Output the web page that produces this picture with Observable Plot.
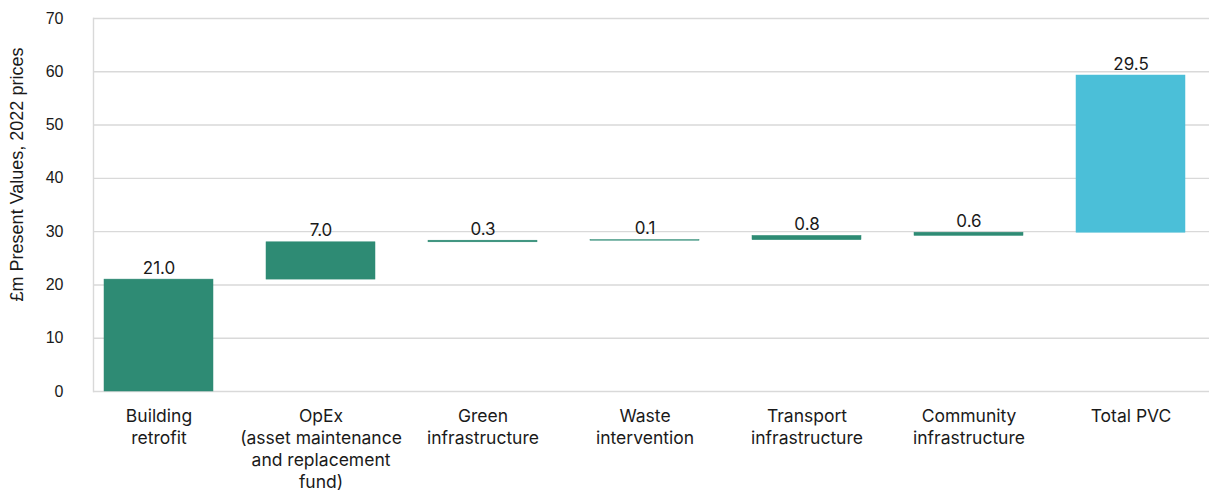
<!DOCTYPE html>
<html>
<head>
<meta charset="utf-8">
<script src="https://cdn.jsdelivr.net/npm/d3@7"></script>
<script src="https://cdn.jsdelivr.net/npm/@observablehq/plot@0.6"></script>
<style>
  html, body { margin: 0; padding: 0; background: #ffffff; }
  #chart svg { display: block; }
</style>
</head>
<body>
<div id="chart"></div>
<script>
// Waterfall of present value costs by component (£m, 2022 prices)
const categories = [
  "Building\nretrofit",
  "OpEx\n(asset maintenance\nand replacement\nfund)",
  "Green\ninfrastructure",
  "Waste\nintervention",
  "Transport\ninfrastructure",
  "Community\ninfrastructure",
  "Total PVC"
];
const values = [21.0, 7.0, 0.3, 0.1, 0.8, 0.6, 29.5];
const kinds = ["step", "step", "step", "step", "step", "step", "total"];
const yTicks = [0, 10, 20, 30, 40, 50, 60, 70];
const yTitle = "£m Present Values, 2022 prices";

// Each bar floats on the running total of the bars before it
let running = 0;
const rows = categories.map((category, i) => {
  const y1 = running;
  const y2 = running + values[i];
  running = y2;
  return { category, value: values[i], kind: kinds[i], y1, y2 };
});

const teal = "#2e8b74";
const cyan = "#4bbfd8";
const grid = "#d9d9d9";
const labelFont = "Inter, 'Noto Sans', sans-serif";
const tickFont = "'Liberation Sans', Arial, sans-serif";

const chart = Plot.plot({
  width: 1209,
  height: 492,
  marginLeft: 93,
  marginRight: 0,
  marginTop: 18,
  marginBottom: 101,
  style: { color: "#1a1a1a", background: "#ffffff", overflow: "visible" },
  x: { domain: categories, paddingInner: 0.328, paddingOuter: 0.1065, align: 0.32, axis: null },
  y: { domain: [0, 70], axis: null },
  marks: [
    Plot.ruleY(yTicks, { stroke: grid, strokeWidth: 1.4 }),
    Plot.frame({ anchor: "left", stroke: grid, strokeWidth: 1.4 }),
    Plot.barY(rows, {
      x: "category",
      y1: "y1",
      y2: "y2",
      fill: d => d.kind === "total" ? cyan : teal,
      stroke: d => d.kind === "total" ? cyan : teal,
      strokeWidth: 0.5
    }),
    Plot.text(rows, {
      x: "category",
      y: "y2",
      text: d => d.value.toFixed(1),
      lineAnchor: "bottom",
      dy: -6,
      fontSize: 17,
      fontFamily: labelFont,
      fill: "#1a1a1a"
    }),
    Plot.axisY(yTicks, {
      tickSize: 0,
      tickPadding: 30,
      fontSize: 16,
      fontFamily: tickFont,
      label: null
    }),
    Plot.axisX({
      tickSize: 0,
      tickPadding: 15,
      fontSize: 17.5,
      fontFamily: labelFont,
      lineHeight: 1.257,
      label: null
    }),
    Plot.text([yTitle], {
      text: d => d,
      frameAnchor: "left",
      textAnchor: "middle",
      rotate: -90,
      dx: -76,
      dy: -30.5,
      fontSize: 18,
      fontFamily: tickFont,
      fill: "#1a1a1a"
    })
  ]
});

document.getElementById("chart").append(chart);
</script>
</body>
</html>
